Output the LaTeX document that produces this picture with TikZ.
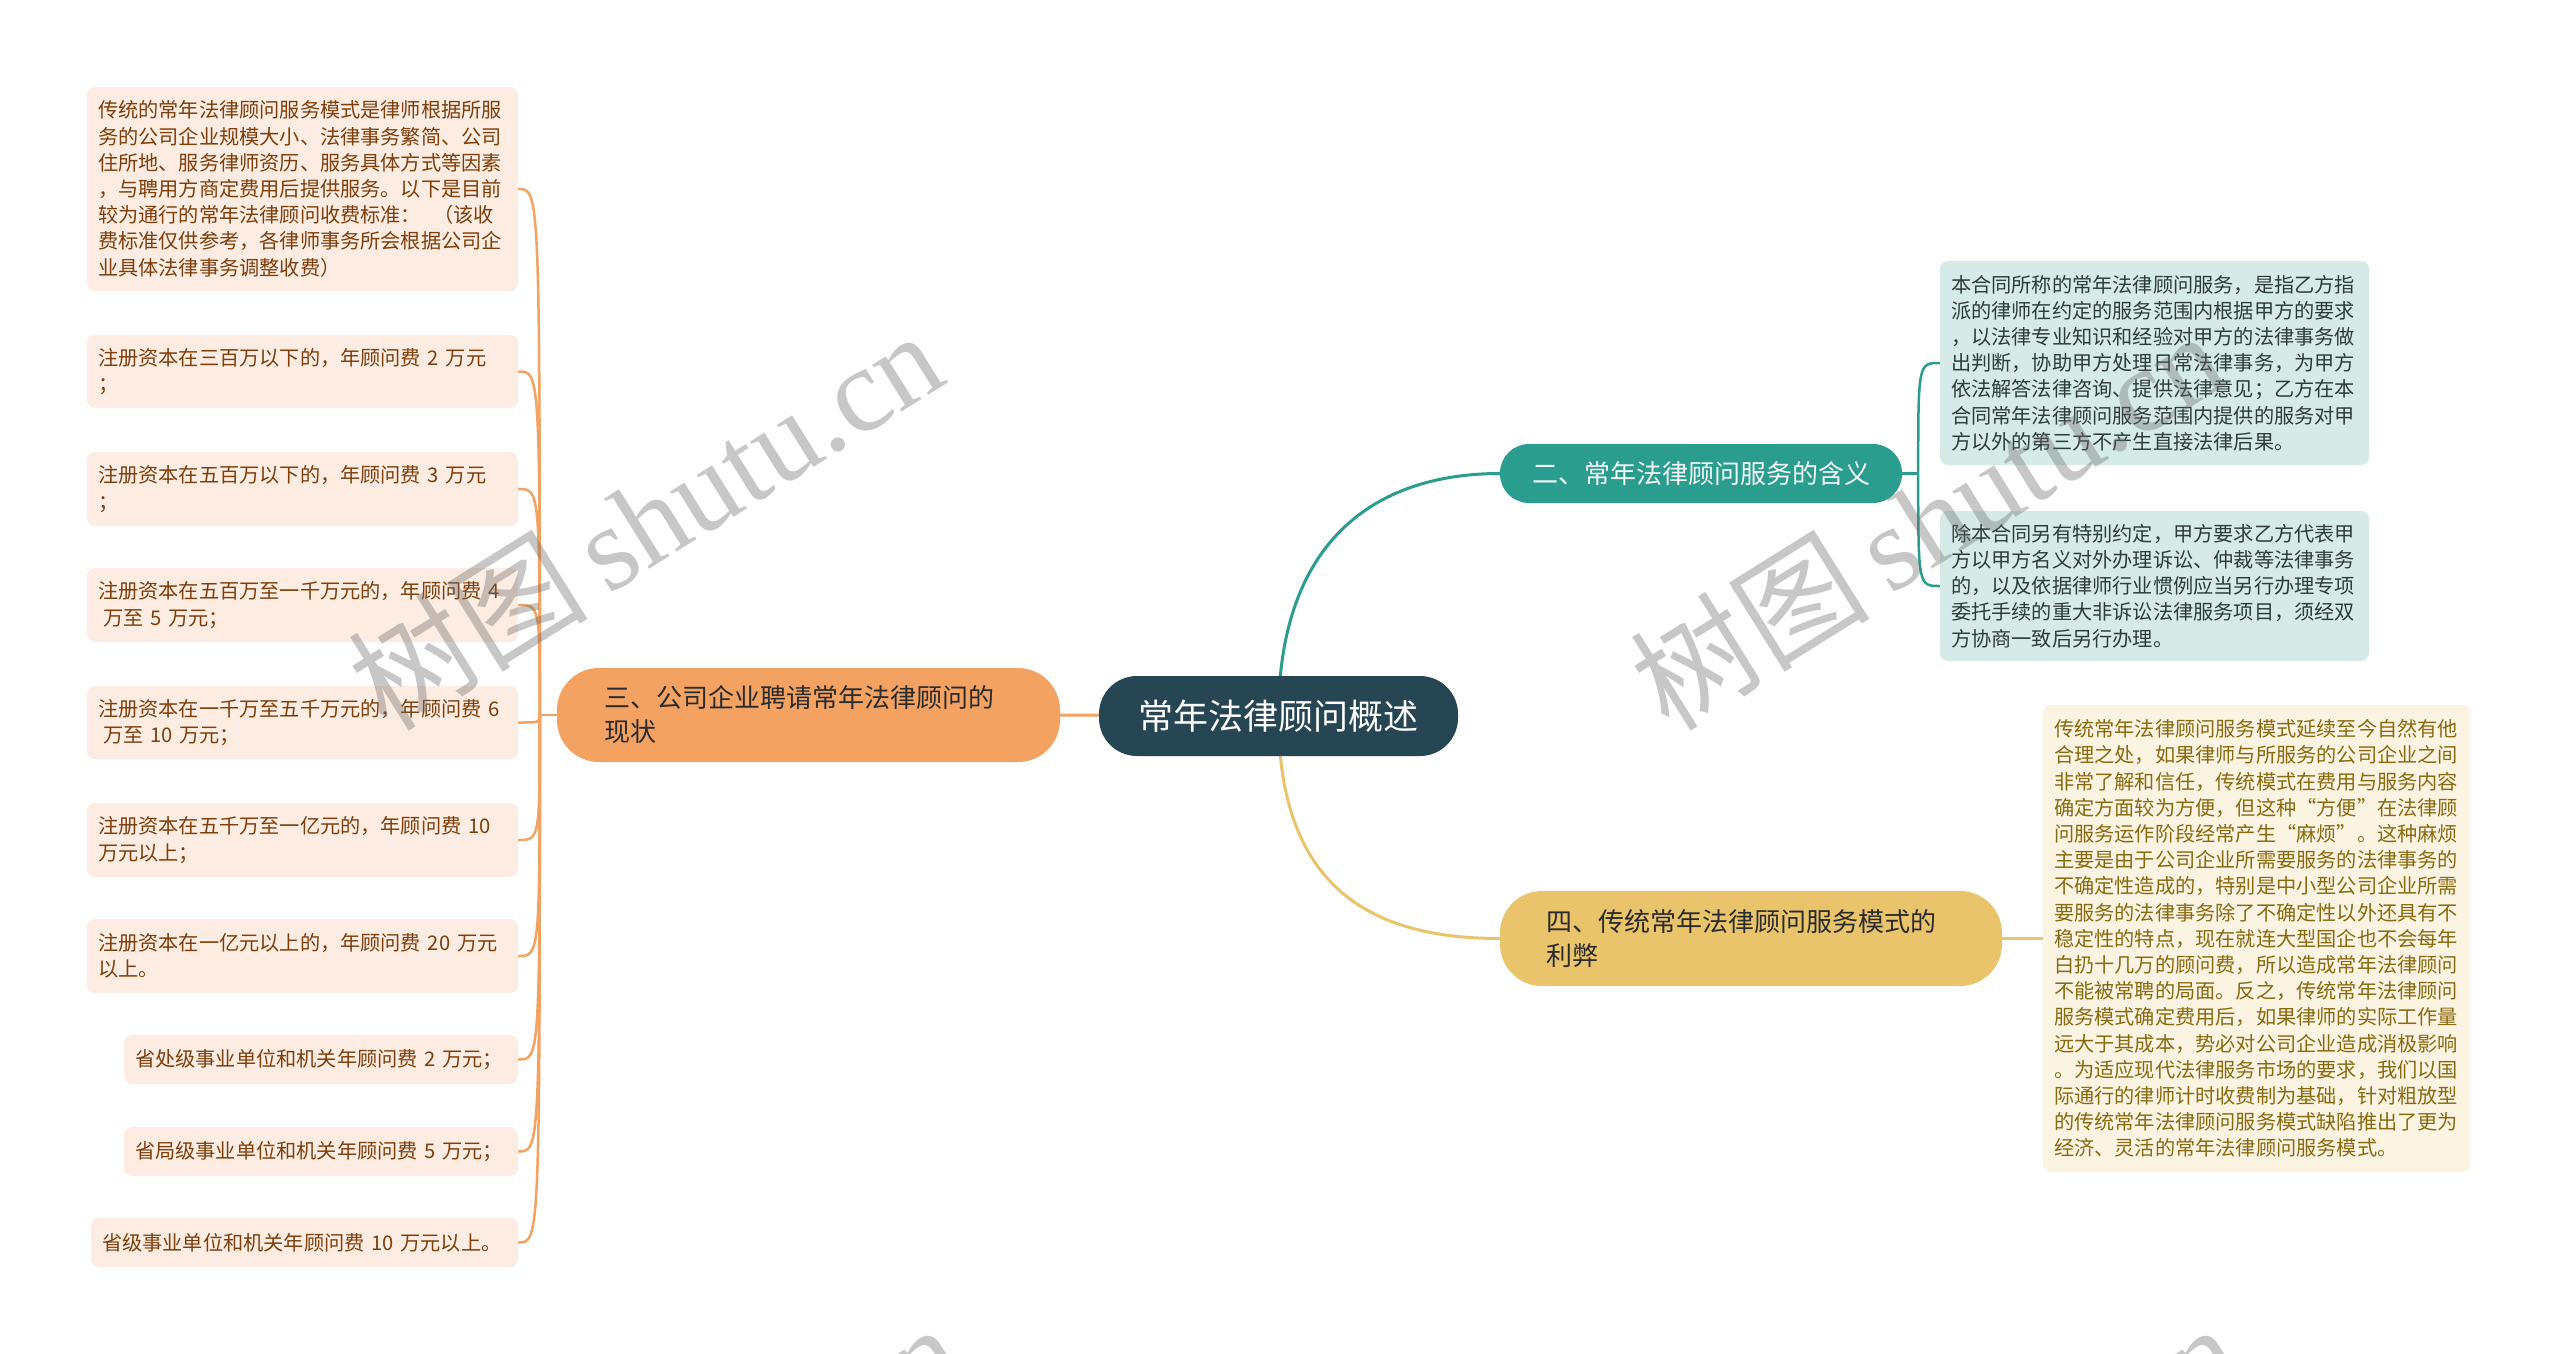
\documentclass[tikz,border=0pt]{standalone}
\usepackage{fontspec}
\newfontfamily\cjk{Noto Sans CJK SC}
\newfontfamily\wmserif{Liberation Serif}
\usetikzlibrary{backgrounds,calc}
\setlength{\parindent}{0pt}
\definecolor{cDark}{HTML}{264653}
\definecolor{cTeal}{HTML}{2A9D8F}
\definecolor{cYel}{HTML}{E9C46A}
\definecolor{cOra}{HTML}{F4A261}
\definecolor{fOra}{HTML}{FDECE1}
\definecolor{fTeal}{HTML}{D6EBE8}
\definecolor{fYel}{HTML}{FCF4E3}
\definecolor{tOra}{HTML}{7F3E0C}
\definecolor{tYel}{HTML}{8A6A10}
\definecolor{tTeal}{HTML}{2F3B3B}
\definecolor{tDark}{HTML}{2B2B2B}
\begin{document}
\begin{tikzpicture}[x=1pt,y=-1pt,
  leafbase/.style={rectangle, rounded corners=8pt, inner xsep=11pt, inner ysep=0pt, align=left, font=\cjk\fontsize{20.2}{26.2}\selectfont},
  leafO/.style={leafbase, fill=fOra, text=tOra},
  leafT/.style={leafbase, fill=fTeal, text=tTeal},
  leafY/.style={leafbase, fill=fYel, text=tYel},
  branch/.style={rectangle, inner ysep=0pt, font=\cjk\fontsize{26}{34}\selectfont},
  rootbox/.style={rectangle, rounded corners=38pt, fill=cDark, text=white, minimum width=359pt, minimum height=80pt, inner sep=0pt, font=\cjk\fontsize{35}{42}\selectfont},
  mainline/.style={line width=3pt},
  subline/.style={line width=2.5pt},
  wm/.style={text=black!60, text opacity=0.36, rotate=32, inner sep=0pt, font=\fontsize{120}{130}\selectfont}
]
\useasboundingbox (0,0) rectangle (2560,1353);

% root
\node[rootbox] (C) at (1278.5,716) {常年法律顾问概述};

% branches
\node[branch, fill=cTeal, text=white!94!cTeal, rounded corners=29pt, minimum width=402pt, minimum height=59pt, inner xsep=0pt] (B2) at (1701,473.5) {二、常年法律顾问服务的含义};
\node[branch, fill=cOra, text=tDark, rounded corners=42pt, text width=409pt, inner xsep=47pt, minimum height=94pt, align=left] (B3) at (808.5,715) {三、公司企业聘请常年法律顾问的\\现状};
\node[branch, fill=cYel, text=tDark, rounded corners=42pt, text width=410pt, inner xsep=46pt, minimum height=95pt, align=left] (B4) at (1751,938.5) {四、传统常年法律顾问服务模式的\\利弊};

% teal leaves
\node[leafT, text width=407pt, minimum height=204pt] (T1) at (2154.5,363) {本合同所称的常年法律顾问服务，是指乙方指\\派的律师在约定的服务范围内根据甲方的要求\\，以法律专业知识和经验对甲方的法律事务做\\出判断，协助甲方处理日常法律事务，为甲方\\依法解答法律咨询、提供法律意见；乙方在本\\合同常年法律顾问服务范围内提供的服务对甲\\方以外的第三方不产生直接法律后果。};
\node[leafT, text width=407pt, minimum height=150pt] (T2) at (2154.5,586) {除本合同另有特别约定，甲方要求乙方代表甲\\方以甲方名义对外办理诉讼、仲裁等法律事务\\的，以及依据律师行业惯例应当另行办理专项\\委托手续的重大非诉讼法律服务项目，须经双\\方协商一致后另行办理。};

% yellow leaf
\node[leafY, text width=405pt, minimum height=467pt] (Y4) at (2256.5,938.5) {传统常年法律顾问服务模式延续至今自然有他\\合理之处，如果律师与所服务的公司企业之间\\非常了解和信任，传统模式在费用与服务内容\\确定方面较为方便，但这种“方便”在法律顾\\问服务运作阶段经常产生“麻烦”。这种麻烦\\主要是由于公司企业所需要服务的法律事务的\\不确定性造成的，特别是中小型公司企业所需\\要服务的法律事务除了不确定性以外还具有不\\稳定性的特点，现在就连大型国企也不会每年\\白扔十几万的顾问费，所以造成常年法律顾问\\不能被常聘的局面。反之，传统常年法律顾问\\服务模式确定费用后，如果律师的实际工作量\\远大于其成本，势必对公司企业造成消极影响\\。为适应现代法律服务市场的要求，我们以国\\际通行的律师计时收费制为基础，针对粗放型\\的传统常年法律顾问服务模式缺陷推出了更为\\经济、灵活的常年法律顾问服务模式。};

% orange leaves
\node[leafO, text width=409pt, minimum height=204pt] (L1) at (302.5,189) {传统的常年法律顾问服务模式是律师根据所服\\务的公司企业规模大小、法律事务繁简、公司\\住所地、服务律师资历、服务具体方式等因素\\，与聘用方商定费用后提供服务。以下是目前\\较为通行的常年法律顾问收费标准：\hspace{0.6em}（该收\\费标准仅供参考，各律师事务所会根据公司企\\业具体法律事务调整收费）};
\node[leafO, text width=409pt, minimum height=73pt] (L2) at (302.5,371.5) {注册资本在三百万以下的，年顾问费 2 万元\\；};
\node[leafO, text width=409pt, minimum height=74pt] (L3) at (302.5,489) {注册资本在五百万以下的，年顾问费 3 万元\\；};
\node[leafO, text width=409pt, minimum height=74pt] (L4) at (302.5,605) {注册资本在五百万至一千万元的，年顾问费 4\\\hspace*{5pt}万至 5 万元；};
\node[leafO, text width=409pt, minimum height=73pt] (L5) at (302.5,722.5) {注册资本在一千万至五千万元的，年顾问费 6\\\hspace*{5pt}万至 10 万元；};
\node[leafO, text width=409pt, minimum height=74pt] (L6) at (302.5,840) {注册资本在五千万至一亿元的，年顾问费 10\\万元以上；};
\node[leafO, text width=409pt, minimum height=74pt] (L7) at (302.5,956) {注册资本在一亿元以上的，年顾问费 20 万元\\以上。};
\node[leafO, text width=372pt, minimum height=49pt] (L8) at (321,1059.5) {省处级事业单位和机关年顾问费 2 万元；};
\node[leafO, text width=372pt, minimum height=49pt] (L9) at (321,1151.5) {省局级事业单位和机关年顾问费 5 万元；};
\node[leafO, text width=405pt, minimum height=49pt] (L10) at (304.5,1242.5) {省级事业单位和机关年顾问费 10 万元以上。};

\begin{pgfonlayer}{background}
  \fill[white] (0,0) rectangle (2560,1353);
  % root to branches
  \draw[mainline, cTeal] (C.center) .. controls +(0,-175) and +(-125,0) .. (B2.west);
  \draw[mainline, cYel] (C.center) .. controls +(0,175) and +(-125,0) .. (B4.west);
  \draw[mainline, cOra] (C.center) -- (B3.east);
  % teal sub
  \coordinate (t2) at ($(B2.east)+(16,0)$);
  \draw[subline, cTeal] (B2.east) -- (t2);
  \foreach \n in {T1,T2}
    \draw[subline, cTeal] (t2) .. controls (t2 |- \n.west) and (t2 |- \n.west) .. (\n.west);
  % yellow sub
  \draw[subline, cYel] (B4.east) -- (Y4.west);
  % orange sub
  \coordinate (t3) at ($(B3.west)+(-17,0)$);
  \draw[subline, cOra] (B3.west) -- (t3);
  \foreach \n in {L1,L2,L3,L4,L5,L6,L7,L8,L9,L10}
    \draw[subline, cOra] (t3) .. controls (t3 |- \n.east) and (t3 |- \n.east) .. (\n.east);
\end{pgfonlayer}

% watermarks
\begin{scope}
  \clip (0,0) rectangle (2560,1353);
  \node[wm] (wm1) at (645,519) {\cjk 树图\,\wmserif shutu.cn};
  \node[wm] (wm2) at (1927,519) {\cjk 树图\,\wmserif shutu.cn};
  \node[wm] (wm3) at (664,1512) {\cjk 树图\,\wmserif shutu.cn};
  \node[wm] (wm4) at (1942,1512) {\cjk 树图\,\wmserif shutu.cn};
\end{scope}
\end{tikzpicture}
\end{document}
